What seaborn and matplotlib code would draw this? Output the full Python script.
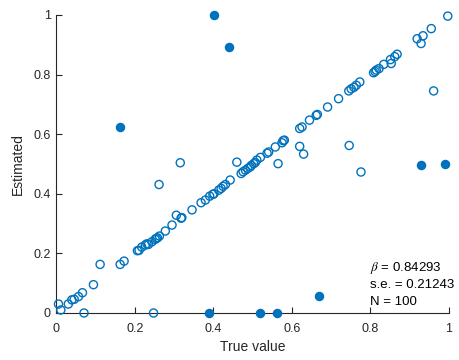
import matplotlib
matplotlib.use("Agg")
import matplotlib.pyplot as plt
import seaborn as sns
import pandas as pd

# Hollow markers: estimates inside the bounds
hollow_true = [0.006, 0.012, 0.031, 0.040, 0.046, 0.057, 0.067, 0.071, 0.095, 0.112,
               0.163, 0.173, 0.207, 0.211, 0.218, 0.227, 0.235, 0.244, 0.252, 0.255,
               0.258, 0.263, 0.278, 0.295, 0.248, 0.262, 0.316, 0.460, 0.306, 0.318,
               0.320, 0.346, 0.369, 0.380, 0.391, 0.399, 0.402, 0.414, 0.420, 0.431,
               0.443, 0.471, 0.476, 0.482, 0.488, 0.494, 0.503, 0.507, 0.511, 0.520,
               0.537, 0.541, 0.558, 0.575, 0.578, 0.581, 0.565, 0.620, 0.626, 0.620,
               0.630, 0.645, 0.662, 0.665, 0.691, 0.719, 0.745, 0.751, 0.758, 0.764,
               0.773, 0.746, 0.776, 0.808, 0.812, 0.815, 0.822, 0.834, 0.851, 0.853,
               0.862, 0.868, 0.919, 0.934, 0.929, 0.955, 0.997, 0.961, 0.425, 0.497,
               0.231]
hollow_est = [0.030, 0.010, 0.030, 0.044, 0.046, 0.055, 0.068, 0.000, 0.095, 0.163,
              0.163, 0.174, 0.209, 0.210, 0.221, 0.228, 0.230, 0.239, 0.247, 0.250,
              0.252, 0.258, 0.275, 0.295, 0.000, 0.431, 0.504, 0.506, 0.328, 0.318,
              0.320, 0.346, 0.370, 0.379, 0.392, 0.398, 0.400, 0.412, 0.418, 0.431,
              0.446, 0.468, 0.474, 0.479, 0.485, 0.490, 0.501, 0.505, 0.513, 0.522,
              0.536, 0.540, 0.557, 0.571, 0.578, 0.580, 0.501, 0.619, 0.624, 0.559,
              0.533, 0.647, 0.663, 0.666, 0.691, 0.719, 0.745, 0.752, 0.757, 0.764,
              0.775, 0.562, 0.473, 0.806, 0.810, 0.815, 0.820, 0.834, 0.850, 0.837,
              0.860, 0.868, 0.920, 0.930, 0.904, 0.954, 0.996, 0.745, 0.425, 0.495,
              0.232]

# Filled markers: estimates at the bounds / outliers
filled_true = [0.163, 0.403, 0.441, 0.930, 0.989, 0.669, 0.390, 0.519, 0.562]
filled_est = [0.624, 1.000, 0.892, 0.498, 0.501, 0.057, 0.000, 0.000, 0.000]

beta_txt = r"$\beta$ = 0.84293"
se_txt = "s.e. = 0.21243"
n_txt = "N = 100"

xticks = [0, 0.2, 0.4, 0.6, 0.8, 1]
yticks = [0, 0.2, 0.4, 0.6, 0.8, 1]
xtick_labels = ["0", "0.2", "0.4", "0.6", "0.8", "1"]
ytick_labels = ["0", "0.2", "0.4", "0.6", "0.8", "1"]

sns.set_style("ticks")
plt.rcParams["font.family"] = ["Liberation Sans", "DejaVu Sans"]
plt.rcParams["mathtext.fontset"] = "stix"

blue = "#0072BD"
axcol = "#262626"

df_h = pd.DataFrame({"true": hollow_true, "est": hollow_est})
df_f = pd.DataFrame({"true": filled_true, "est": filled_est})

fig = plt.figure(figsize=(4.6, 3.6), dpi=100)
ax = fig.add_axes([0.122, 0.1306, 0.854, 0.828])

sns.scatterplot(data=df_h, x="true", y="est", ax=ax, s=34, facecolors="none",
                edgecolor=blue, linewidth=1.0, clip_on=False, zorder=3)
sns.scatterplot(data=df_f, x="true", y="est", ax=ax, s=34, color=blue,
                edgecolor=blue, linewidth=1.0, clip_on=False, zorder=4)

ax.set_xlim(0, 1)
ax.set_ylim(0, 1)
ax.set_xticks(xticks)
ax.set_xticklabels(xtick_labels)
ax.set_yticks(yticks)
ax.set_yticklabels(ytick_labels)
ax.set_xlabel("True value", fontsize=10, color=axcol, labelpad=4)
ax.set_ylabel("Estimated", fontsize=10, color=axcol, labelpad=6)
ax.tick_params(direction="in", length=4, width=0.8, colors=axcol, labelsize=9)
ax.tick_params(axis="x", pad=7)
ax.tick_params(axis="y", pad=4)
sns.despine(ax=ax)
for sp in ["left", "bottom"]:
    ax.spines[sp].set_color(axcol)
    ax.spines[sp].set_linewidth(0.8)

for yy, t in zip([0.151, 0.094, 0.037], [beta_txt, se_txt, n_txt]):
    ax.text(0.80, yy, t, fontsize=9.5, color="black", ha="left", va="center")

fig.savefig("out.png", dpi=100)
